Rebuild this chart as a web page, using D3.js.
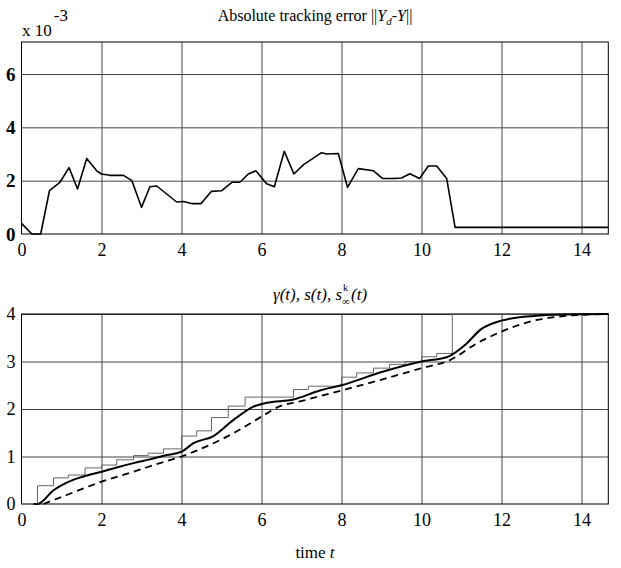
<!DOCTYPE html>
<html><head><meta charset="utf-8">
<script src="https://cdn.jsdelivr.net/npm/d3@7"></script>
<style>
html,body{margin:0;padding:0;background:#fff;}
svg{display:block;}
svg text{font-family:"Liberation Serif","Times New Roman",serif;}
</style></head>
<body><svg id="c" width="621" height="568"></svg>
<script>
// ---- data ----
const xTicks = [0, 2, 4, 6, 8, 10, 12, 14];
const errYTicks = [0, 2, 4, 6];
const trajYTicks = [0, 1, 2, 3, 4];

const errT = [0, 0.26, 0.48, 0.70, 0.96, 1.19, 1.40, 1.63, 1.88, 2.0, 2.21, 2.55, 2.76, 3.0, 3.21, 3.38, 3.63, 3.88, 4.05, 4.25, 4.49, 4.75, 5.0, 5.26, 5.46, 5.67, 5.86, 6.13, 6.32, 6.57, 6.81, 7.05, 7.25, 7.5, 7.63, 7.92, 8.15, 8.42, 8.8, 9.03, 9.3, 9.5, 9.71, 9.95, 10.17, 10.38, 10.63, 10.84, 14.67];
const errV = [0.40, 0, 0, 1.63, 1.94, 2.49, 1.69, 2.83, 2.37, 2.25, 2.2, 2.2, 2.0, 1.0, 1.77, 1.8, 1.5, 1.2, 1.22, 1.14, 1.14, 1.6, 1.62, 1.94, 1.94, 2.25, 2.37, 1.88, 1.77, 3.1, 2.25, 2.6, 2.8, 3.05, 3.0, 3.02, 1.75, 2.45, 2.37, 2.08, 2.08, 2.1, 2.26, 2.08, 2.55, 2.55, 2.08, 0.25, 0.25];

const gammaT = [0, 0.4, 0.8, 1.17, 1.59, 2.0, 2.38, 2.8, 3.17, 3.55, 4.0, 4.38, 4.75, 5.17, 5.59, 6.8, 7.17, 8.0, 8.38, 8.8, 9.2, 9.59, 10.0, 10.38, 10.77, 14.67];
const gammaV = [0, 0.385, 0.55, 0.61, 0.76, 0.82, 0.93, 1.02, 1.07, 1.16, 1.43, 1.54, 1.82, 2.06, 2.25, 2.41, 2.48, 2.67, 2.76, 2.86, 2.94, 3.0, 3.1, 3.17, 4.0, 4.0];

const sT = [0.3, 0.4, 0.8, 1.13, 1.55, 2.0, 2.38, 2.8, 3.21, 3.63, 4.0, 4.3, 4.8, 5.3, 5.8, 6.13, 6.8, 7.46, 8.0, 9.05, 10.0, 10.63, 11.13, 11.46, 12.0, 12.8, 13.6, 14.67];
const sV = [0, 0, 0.29, 0.45, 0.58, 0.68, 0.77, 0.86, 0.94, 1.03, 1.1, 1.28, 1.43, 1.77, 2.05, 2.13, 2.2, 2.39, 2.5, 2.79, 3.0, 3.09, 3.38, 3.66, 3.86, 3.96, 3.99, 4.0];

const sinfT = [0.55, 1.13, 2.0, 2.8, 3.46, 4.0, 4.8, 5.3, 6.0, 6.46, 6.96, 7.46, 8.0, 9.05, 10.0, 10.71, 11.38, 12.0, 12.8, 13.6, 14.67];
const sinfV = [0, 0.19, 0.47, 0.68, 0.86, 1.0, 1.28, 1.49, 1.84, 2.06, 2.16, 2.27, 2.39, 2.63, 2.86, 3.03, 3.38, 3.63, 3.86, 3.96, 4.0];

// ---- drawing ----
const svg = d3.select("#c");
const x = d3.scaleLinear().domain([0, 14.67]).range([21.5, 608.3]);
const yTop = d3.scaleLinear().domain([0, 7.2]).range([234, 42]);
const yBot = d3.scaleLinear().domain([0, 4]).range([504, 314]);

function panel(y, yTicks, boldY) {
  const g = svg.append("g");
  const [y0, y1] = y.range();
  g.append("g").attr("transform", `translate(0,${y0})`)
    .call(d3.axisBottom(x).tickValues(xTicks.filter(d => d > 0)).tickSize(-(y0 - y1)).tickFormat(""))
    .call(a => a.select(".domain").remove())
    .selectAll("line").attr("stroke", "#444").attr("stroke-width", 1);
  g.append("g").attr("transform", `translate(${x.range()[0]},0)`)
    .call(d3.axisLeft(y).tickValues(yTicks.filter(d => d > 0)).tickSize(-(x.range()[1] - x.range()[0])).tickFormat(""))
    .call(a => a.select(".domain").remove())
    .selectAll("line").attr("stroke", "#444").attr("stroke-width", 1);
  g.append("rect").attr("x", x.range()[0]).attr("y", y1)
    .attr("width", x.range()[1] - x.range()[0]).attr("height", y0 - y1)
    .attr("fill", "none").attr("stroke", "#000").attr("stroke-width", 1);
  const ax = g.append("g").attr("transform", `translate(0,${y0})`)
    .call(d3.axisBottom(x).tickValues(xTicks).tickSize(0).tickPadding(9).tickFormat(d3.format("d")));
  ax.select(".domain").remove();
  ax.attr("font-family", null);
  ax.selectAll("text").attr("font-size", 18).attr("fill", "#000");
  const ay = g.append("g").attr("transform", `translate(${x.range()[0]},0)`)
    .call(d3.axisLeft(y).tickValues(yTicks).tickSize(0).tickPadding(6).tickFormat(d3.format("d")));
  ay.select(".domain").remove();
  ay.attr("font-family", null);
  ay.selectAll("text").attr("font-size", boldY ? 19 : 18).attr("font-weight", boldY ? "bold" : "normal")
    .attr("fill", "#000");
  return g;
}

const gTop = panel(yTop, errYTicks, true);
const gBot = panel(yBot, trajYTicks, false);

const errData = errT.map((t, i) => [t, errV[i]]);
gTop.append("path").datum(errData)
  .attr("d", d3.line().x(d => x(d[0])).y(d => yTop(d[1])))
  .attr("fill", "none").attr("stroke", "#000").attr("stroke-width", 1.6).attr("stroke-linejoin", "round");

const gammaData = gammaT.map((t, i) => [t, gammaV[i]]);
gBot.append("path").datum(gammaData)
  .attr("d", d3.line().curve(d3.curveStepAfter).x(d => x(d[0])).y(d => yBot(d[1])))
  .attr("fill", "none").attr("stroke", "#666").attr("stroke-width", 1);

const sinfData = sinfT.map((t, i) => [t, sinfV[i]]);
gBot.append("path").datum(sinfData)
  .attr("d", d3.line().curve(d3.curveMonotoneX).x(d => x(d[0])).y(d => yBot(d[1])))
  .attr("fill", "none").attr("stroke", "#000").attr("stroke-width", 1.8).attr("stroke-dasharray", "7,5");

const sData = sT.map((t, i) => [t, sV[i]]);
gBot.append("path").datum(sData)
  .attr("d", d3.line().curve(d3.curveMonotoneX).x(d => x(d[0])).y(d => yBot(d[1])))
  .attr("fill", "none").attr("stroke", "#000").attr("stroke-width", 2);

// titles / labels
const t1 = svg.append("text").attr("x", 315).attr("y", 21).attr("text-anchor", "middle")
  .attr("font-size", 16).attr("fill", "#000");
t1.append("tspan").text("Absolute tracking error ||");
t1.append("tspan").attr("font-style", "italic").text("Y");
t1.append("tspan").attr("font-style", "italic").attr("font-size", 11).attr("dy", 4).text("d");
t1.append("tspan").attr("dy", -4).text("-");
t1.append("tspan").attr("font-style", "italic").text("Y");
t1.append("tspan").text("||");

const ex = svg.append("text").attr("x", 22).attr("y", 36).attr("font-size", 17).attr("fill", "#000");
ex.append("tspan").text("x 10");
ex.append("tspan").attr("dy", -15).attr("dx", 2).text("-3");

// bottom title: main part, stacked sub/superscript, tail
const titleMain = svg.append("text").attr("x", 273).attr("y", 300)
  .attr("font-size", 17).attr("font-style", "italic").attr("fill", "#000").text("γ(t), s(t), s");
const mainEnd = 273 + titleMain.node().getComputedTextLength();
svg.append("text").attr("x", mainEnd + 1).attr("y", 291).attr("font-size", 10).attr("fill", "#000").text("k");
svg.append("text").attr("x", mainEnd).attr("y", 305).attr("font-size", 11).attr("fill", "#000").text("∞");
svg.append("text").attr("x", mainEnd + 9).attr("y", 300)
  .attr("font-size", 17).attr("font-style", "italic").attr("fill", "#000").text("(t)");

const xl = svg.append("text").attr("x", 315).attr("y", 558).attr("text-anchor", "middle")
  .attr("font-size", 17).attr("fill", "#000");
xl.append("tspan").text("time ");
xl.append("tspan").attr("font-style", "italic").text("t");
</script></body></html>
